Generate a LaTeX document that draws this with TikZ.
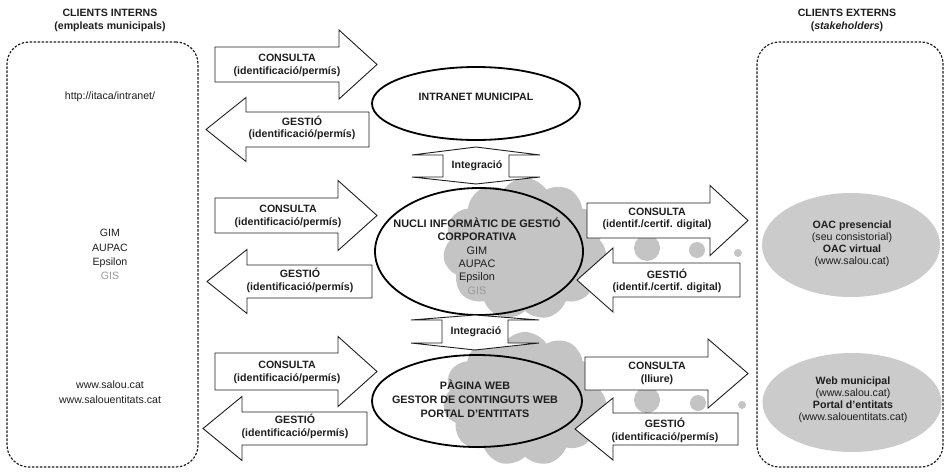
\documentclass[tikz,border=0pt]{standalone}
\usepackage{fontspec}
\setmainfont{Liberation Sans}
\usetikzlibrary{shapes.geometric,shapes.symbols}

\definecolor{cloudgray}{HTML}{C4C4C4}
\definecolor{ovalgray}{HTML}{CBCBCB}
\definecolor{inkgray}{HTML}{1E1E1E}
\definecolor{softgray}{HTML}{9A9A9A}

\newcommand\txtsize{\fontsize{10.6}{12.8}\selectfont}

% horizontal block arrow: #1 tail x, #2 head base x, #3 tip x, #4 centre y,
% #5 half shaft height, #6 half head height
\newcommand\blockarrow[6]{%
  \draw[blockarr] (#1,{#4-#5}) -- (#2,{#4-#5}) -- (#2,{#4-#6}) -- (#3,#4)
    -- (#2,{#4+#6}) -- (#2,{#4+#5}) -- (#1,{#4+#5}) -- cycle;}

% vertical two-headed arrow: #1 centre x, #2 half head width, #3 half shaft width,
% #4 upper tip y, #5 upper base y, #6 lower base y, #7 lower tip y
\newcommand\integarrow[7]{%
  \draw[blockarr] (#1,#4) -- ({#1+#2},#5) -- ({#1+#3},#5) -- ({#1+#3},#6)
    -- ({#1+#2},#6) -- (#1,#7) -- ({#1-#2},#6) -- ({#1-#3},#6)
    -- ({#1-#3},#5) -- ({#1-#2},#5) -- cycle;}

\tikzset{
  blockarr/.style={draw=inkgray, line width=0.9pt, fill=white, line join=miter},
  lbl/.style={font=\txtsize\bfseries, align=center, inner sep=0pt, text=inkgray},
  plain/.style={font=\txtsize, align=center, inner sep=0pt, text=inkgray},
  hub/.style={ellipse, draw=black, line width=1.8pt, inner sep=0pt},
  extoval/.style={ellipse, fill=ovalgray, inner sep=0pt},
  dashbox/.style={draw=inkgray, line width=1.2pt, dash pattern=on 2.4pt off 1.6pt,
    rounded corners=22pt, inner sep=0pt},
  puff/.style={fill=cloudgray},
  backcloud/.style={cloud, cloud puffs=11, cloud puff arc=115, fill=cloudgray,
    inner sep=0pt}
}

\begin{document}
\begin{tikzpicture}[x=1pt,y=-1pt]
\useasboundingbox (0,0) rectangle (944,471);

% client groups
\node[dashbox, minimum width=191pt, minimum height=425pt] (interns) at (102.5,254.5) {};
\node[dashbox, minimum width=186pt, minimum height=425pt] (externs) at (850,254.5) {};
\node[lbl] (internsT) at (110,20.5) {CLIENTS INTERNS\\(empleats municipals)};
\node[lbl] (externsT) at (847,20.5) {CLIENTS EXTERNS\\(\textit{stakeholders})};

% clouds behind the corporate core and the web block
\node[backcloud, minimum width=164pt, minimum height=142pt] (cloudA) at (525,249) {};
\node[backcloud, minimum width=164pt, minimum height=134pt] (cloudB) at (525,399) {};
\fill[puff] (647,248) circle[radius=13pt] (697,250) circle[radius=8pt]
  (738,253) circle[radius=4pt];
\fill[puff] (647,400) circle[radius=13pt] (698,403) circle[radius=8pt]
  (742,405) circle[radius=4pt];

% central systems
\node[hub, minimum width=208pt, minimum height=73pt] (intranet) at (476,103.5) {};
\node[hub, minimum width=208pt, minimum height=127pt] (nucli) at (479,251.5) {};
\node[hub, minimum width=210pt, minimum height=92pt] (web) at (477,401) {};

% external channels
\node[extoval, minimum width=178pt, minimum height=104pt] (oac) at (851,245) {};
\node[extoval, minimum width=179pt, minimum height=99pt] (webmun) at (852,402.5) {};

% integration arrows between the systems
\integarrow{476}{64}{33}{147}{155}{177}{184}
\integarrow{475}{64}{33}{315}{320}{343}{350}
\node[lbl] (integ1) at (477,166) {Integració};
\node[lbl] (integ2) at (476,332) {Integració};

% internal clients <-> systems
\blockarrow{215}{339}{377}{64.5}{17.5}{34.5}
\blockarrow{369}{246}{206}{129.5}{17.5}{32}
\blockarrow{215}{338}{377}{215.5}{17.5}{35}
\blockarrow{372}{247}{207}{281.5}{16.5}{32}
\blockarrow{215}{338}{377}{371.5}{18.5}{35}
\blockarrow{367}{242}{203}{428.5}{16.5}{32}

% systems <-> external clients
\blockarrow{587}{710}{748}{220.5}{17.5}{35}
\blockarrow{740}{613}{577}{280}{17}{32}
\blockarrow{585}{708}{748}{373.5}{16.5}{34.5}
\blockarrow{738}{613}{575}{429}{16}{31}

% arrow labels
\node[lbl] (c1) at (287,65.5) {CONSULTA\\(identificació/permís)};
\node[lbl] (g1) at (302,128) {GESTIÓ\\(identificació/permís)};
\node[lbl] (c2) at (288,216.5) {CONSULTA\\(identificació/permís)};
\node[lbl] (g2) at (300,280.5) {GESTIÓ\\(identificació/permís)};
\node[lbl] (c3) at (287,372.5) {CONSULTA\\(identificació/permís)};
\node[lbl] (g3) at (295,426.5) {GESTIÓ\\(identificació/permís)};
\node[lbl] (rc2) at (657,219) {CONSULTA\\(identif./certif. digital)};
\node[lbl] (rg2) at (667,281) {GESTIÓ\\(identif./certif. digital)};
\node[lbl] (rc3) at (657,373.5) {CONSULTA\\(lliure)};
\node[lbl] (rg3) at (665,430) {GESTIÓ\\(identificació/permís)};

% system texts
\node[lbl] (intranetT) at (476,97) {INTRANET MUNICIPAL};
\node[plain, font=\fontsize{10.9}{13.3}\selectfont] (nucliT) at (477,256)
  {\textbf{NUCLI INFORMÀTIC DE GESTIÓ}\\\textbf{CORPORATIVA}\\GIM\\AUPAC\\Epsilon\\\textcolor{softgray}{GIS}};
\node[lbl, font=\fontsize{10.8}{14}\selectfont\bfseries] (webT) at (475,399)
  {PÀGINA WEB\\GESTOR DE CONTINGUTS WEB\\PORTAL D'ENTITATS};

% internal client texts
\node[plain] (intraUrl) at (110,97) {http://itaca/intranet/};
\node[plain, font=\fontsize{10.6}{14.3}\selectfont] (apps) at (110,254.5)
  {GIM\\AUPAC\\Epsilon\\\textcolor{softgray}{GIS}};
\node[plain, font=\fontsize{10.6}{15}\selectfont] (urls) at (110,392)
  {www.salou.cat\\www.salouentitats.cat};

% external client texts
\node[plain, font=\fontsize{10.6}{12}\selectfont] (oacT) at (852,244)
  {\textbf{OAC presencial}\\(seu consistorial)\\\textbf{OAC virtual}\\(www.salou.cat)};
\node[plain, font=\fontsize{10.6}{12}\selectfont] (webmunT) at (853,400)
  {\textbf{Web municipal}\\(www.salou.cat)\\\textbf{Portal d'entitats}\\(www.salouentitats.cat)};
\end{tikzpicture}
\end{document}
